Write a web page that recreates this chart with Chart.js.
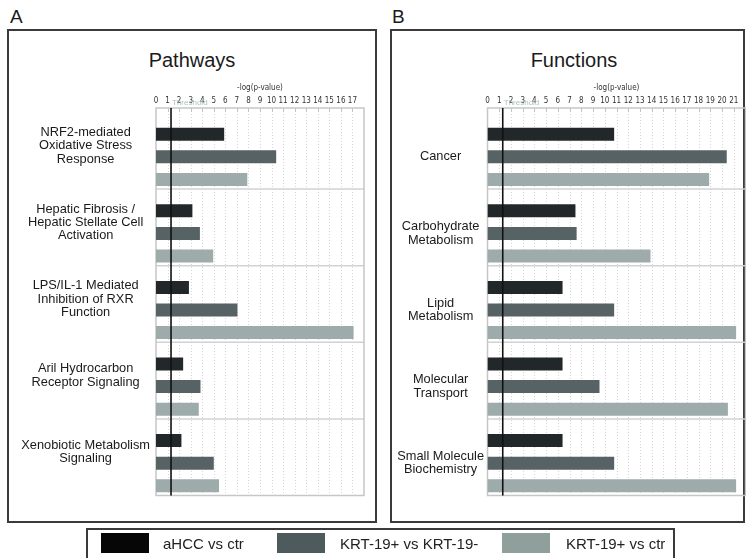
<!DOCTYPE html>
<html>
<head>
<meta charset="utf-8">
<script src="https://cdn.jsdelivr.net/npm/chart.js@4"></script>
<style>
    body { margin: 0; width: 746px; height: 558px; overflow: hidden; background: #fff; position: relative;
           font-family: "Liberation Sans", Arial, sans-serif; color: #1a1a1a; }
    .abs { position: absolute; }
    .letter { font-size: 19px; line-height: 19px; top: 7px; }
    .frame { box-sizing: border-box; border: 2px solid #3a3a3a; }
    .title { font-size: 20px; line-height: 20px; top: 50px; width: 200px; text-align: center; }
    .swatch { width: 48px; height: 20px; top: 533px; }
    .legtext { font-size: 15px; line-height: 15px; top: 536px; white-space: nowrap; color: #222; }
</style>
</head>
<body>
<div class="abs letter" style="left:10px">A</div>
<div class="abs letter" style="left:392px">B</div>

<div class="abs frame" style="left:7px; top:29px; width:370px; height:494px"></div>
<div class="abs frame" style="left:390px; top:29px; width:355px; height:494px"></div>

<div class="abs title" style="left:92px">Pathways</div>
<div class="abs title" style="left:474px">Functions</div>

<div class="abs" style="left:0; top:0; width:384px; height:558px"><canvas id="pathwayChart"></canvas></div>
<div class="abs" style="left:384px; top:0; width:366px; height:558px"><canvas id="functionChart"></canvas></div>

<div class="abs frame" style="left:86px; top:528px; width:589px; height:40px"></div>
<div class="abs swatch" style="left:101px; background:#060606"></div>
<div class="abs legtext" style="left:163px">aHCC vs ctr</div>
<div class="abs swatch" style="left:277px; background:#4d5b5c"></div>
<div class="abs legtext" style="left:340px">KRT-19+ vs KRT-19-</div>
<div class="abs swatch" style="left:502px; background:#8f9f9b"></div>
<div class="abs legtext" style="left:566px">KRT-19+ vs ctr</div>

<script>
// Data
const seriesNames = ['aHCC vs ctr', 'KRT-19+ vs KRT-19-', 'KRT-19+ vs ctr'];
const seriesColors = ['#22282a', '#566264', '#9eabab'];

const pathwayLabels = [
    ['NRF2-mediated', 'Oxidative Stress', 'Response'],
    ['Hepatic Fibrosis /', 'Hepatic Stellate Cell', 'Activation'],
    ['LPS/IL-1 Mediated', 'Inhibition of RXR', 'Function'],
    ['Aril Hydrocarbon', 'Receptor Signaling'],
    ['Xenobiotic Metabolism', 'Signaling']
];
const pathwayAhcc = [5.9, 3.15, 2.85, 2.35, 2.2];
const pathwayKrtKrt = [10.4, 3.8, 7.05, 3.85, 5.0];
const pathwayKrtCtr = [7.9, 4.95, 17.1, 3.7, 5.45];

const functionLabels = [
    'Cancer',
    ['Carbohydrate', 'Metabolism'],
    ['Lipid', 'Metabolism'],
    ['Molecular', 'Transport'],
    ['Small Molecule', 'Biochemistry']
];
const functionAhcc = [10.8, 7.5, 6.4, 6.4, 6.4];
const functionKrtKrt = [20.4, 7.6, 10.8, 9.55, 10.8];
const functionKrtCtr = [18.9, 13.9, 21.2, 20.5, 21.2];

const threshold = 1.3;

// grid, group separators, plot frame and threshold line
const panelDecor = {
    id: 'panelDecor',
    beforeDatasetsDraw(chart, args, opts) {
        const ctx = chart.ctx;
        const a = chart.chartArea;
        const x = chart.scales.x;
        const y = chart.scales.y;
        const top = opts.frameTop;
        const bottom = a.bottom - opts.shift;
        ctx.save();

        ctx.strokeStyle = '#d6d6d6';
        ctx.lineWidth = 1;
        ctx.setLineDash([1, 2]);
        for (let v = 1; v < x.max; v++) {
            const px = Math.round(x.getPixelForValue(v)) + 0.5;
            ctx.beginPath();
            ctx.moveTo(px, top);
            ctx.lineTo(px, bottom);
            ctx.stroke();
        }
        ctx.setLineDash([]);

        // small tick marks under the axis line
        ctx.strokeStyle = '#c4c4c4';
        for (let v = 1; v < x.max; v++) {
            const px = Math.round(x.getPixelForValue(v)) + 0.5;
            ctx.beginPath();
            ctx.moveTo(px, top);
            ctx.lineTo(px, top + 4);
            ctx.stroke();
        }

        ctx.strokeStyle = '#d2d2d2';
        ctx.lineWidth = 1.5;
        for (let i = 1; i < y.ticks.length; i++) {
            const py = (y.getPixelForTick(i - 1) + y.getPixelForTick(i)) / 2 - opts.shift;
            ctx.beginPath();
            ctx.moveTo(a.left, py);
            ctx.lineTo(a.right, py);
            ctx.stroke();
        }

        ctx.strokeStyle = '#c6c6c6';
        ctx.strokeRect(a.left, top, a.right - a.left, bottom - top);
        ctx.restore();
    },
    afterDatasetsDraw(chart, args, opts) {
        const ctx = chart.ctx;
        const a = chart.chartArea;
        const px = chart.scales.x.getPixelForValue(opts.threshold);
        ctx.save();
        ctx.strokeStyle = '#111';
        ctx.lineWidth = 1.6;
        ctx.beginPath();
        ctx.moveTo(px, opts.frameTop);
        ctx.lineTo(px, a.bottom - opts.shift);
        ctx.stroke();
        ctx.fillStyle = '#a9c6ba';
        ctx.font = '8px "Liberation Sans", Arial, sans-serif';
        ctx.textBaseline = 'middle';
        ctx.fillText('Threshold', px + 1, opts.frameTop - 5);
        ctx.restore();
    }
};

function makePanel(id, labels, values, opts) {
    const ctx = document.getElementById(id).getContext('2d');
    return new Chart(ctx, {
        type: 'bar',
        data: {
            labels: labels,
            datasets: values.map((vals, i) => ({
                label: seriesNames[i],
                data: vals,
                backgroundColor: seriesColors[i],
                borderWidth: 0,
                categoryPercentage: 0.885,
                barPercentage: 0.575
            }))
        },
        plugins: [panelDecor],
        options: {
            indexAxis: 'y',
            responsive: true,
            maintainAspectRatio: false,
            animation: false,
            layout: {
                padding: { left: opts.padLeft, right: opts.padRight, top: 0, bottom: 56.5 }
            },
            plugins: {
                legend: { display: false },
                tooltip: { enabled: false },
                panelDecor: { threshold: threshold, frameTop: 108, shift: 6 }
            },
            scales: {
                x: {
                    type: 'linear',
                    position: 'top',
                    min: 0,
                    max: opts.max,
                    afterFit: s => { s.height = 118.5; },
                    grid: { display: false },
                    border: { display: false },
                    ticks: {
                        stepSize: 1,
                        padding: 4.5,
                        color: '#333',
                        maxRotation: 0,
                        autoSkip: false,
                        font: { family: '"Liberation Sans Narrow", "DejaVu Sans Condensed", sans-serif', size: 8 },
                        callback: v => (v < opts.max ? v : '')
                    },
                    title: {
                        display: true,
                        text: '-log(p-value)',
                        color: '#333',
                        padding: { top: 83, bottom: 0 },
                        font: { family: '"Liberation Sans Narrow", "DejaVu Sans Condensed", sans-serif', size: 8 }
                    }
                },
                y: {
                    afterFit: s => { s.width = opts.axisWidth; },
                    grid: { display: false, drawTicks: false },
                    border: { display: false },
                    ticks: {
                        crossAlign: 'center',
                        padding: opts.labelPad,
                        labelOffset: opts.labelOffset,
                        color: '#1a1a1a',
                        font: { family: '"Liberation Sans", Arial, sans-serif', size: 12.8, lineHeight: 1.04 }
                    }
                }
            }
        }
    });
}

makePanel('pathwayChart', pathwayLabels, [pathwayAhcc, pathwayKrtKrt, pathwayKrtCtr], {
    max: 18, padLeft: 10, padRight: 20, axisWidth: 146, labelPad: 6, labelOffset: -11
});
makePanel('functionChart', functionLabels, [functionAhcc, functionKrtKrt, functionKrtCtr], {
    max: 22, padLeft: 5, padRight: 4.5, axisWidth: 98.5, labelPad: 3.5, labelOffset: 0
});
</script>
</body>
</html>
